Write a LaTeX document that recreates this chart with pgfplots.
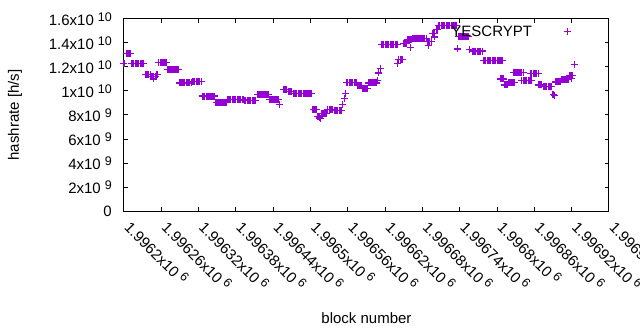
\documentclass[border=0pt]{standalone}
\usepackage{fontspec}
\setmainfont{Liberation Sans}
\usepackage{pgfplots}
\pgfplotsset{compat=1.18}
\definecolor{gpviolet}{HTML}{9400D3}
\newcommand\gpsup[1]{\hspace{4bp}\raisebox{4.5bp}{\fontsize{12.5bp}{12.5bp}\selectfont #1}}
\pgfplotsset{gplegend/.style={legend image code/.code={\draw[draw=gpviolet, fill=none, line width=1bp, solid] (-3.5bp,0bp) -- (3.5bp,0bp) (0bp,-3.5bp) -- (0bp,3.5bp);}}}
\begin{document}
\fontsize{15bp}{18bp}\selectfont
\begin{tikzpicture}[font=\fontsize{15bp}{18bp}\selectfont]
\path[use as bounding box] (-124bp,-119bp) rectangle (516bp,211bp);
\begin{axis}[
  at={(0,0)}, anchor=south west,
  scale only axis, width=485bp, height=192bp,
  xmin=0, xmax=780, ymin=0, ymax=1.6,
  axis line style={line width=1bp, black},
  tick align=inside,
  major tick length=4bp,
  every tick/.style={black, line width=1bp},
  xtick={0,60,120,180,240,300,360,420,480,540,600,660,720,780},
  xticklabels={1.9962x10\gpsup{6},1.99626x10\gpsup{6},1.99632x10\gpsup{6},1.99638x10\gpsup{6},1.99644x10\gpsup{6},1.9965x10\gpsup{6},1.99656x10\gpsup{6},1.99662x10\gpsup{6},1.99668x10\gpsup{6},1.99674x10\gpsup{6},1.9968x10\gpsup{6},1.99686x10\gpsup{6},1.99692x10\gpsup{6},1.99698x10\gpsup{6}},
  ytick={0,0.2,0.4,0.6,0.8,1,1.2,1.4,1.6},
  yticklabels={0,2x10\gpsup{9},4x10\gpsup{9},6x10\gpsup{9},8x10\gpsup{9},1x10\gpsup{10},1.2x10\gpsup{10},1.4x10\gpsup{10},1.6x10\gpsup{10}},
  xticklabel style={xshift=4bp, yshift=-13bp, rotate=-45, anchor=west, inner sep=0pt},
  yticklabel style={anchor=east, inner sep=0pt, xshift=-12bp},
  xlabel={block number}, ylabel={hashrate [h/s]},
  xlabel style={at={(axis description cs:0.5,-0.5885)}, anchor=base},
  ylabel style={at={(axis description cs:-0.2165,0.5)}, anchor=base},
  legend plot pos=right,
  legend style={draw=none, fill=none, inner sep=0pt, outer sep=0pt, anchor=east, at={(0.9237,0.9323)}, cells={anchor=center}, nodes={inner sep=0pt}, column sep=32bp},
]
\addplot[only marks, mark=+, mark size=3.5bp, color=gpviolet, mark options={line width=1.1bp}, gplegend]
coordinates {
(0,1.23)
(4,1.314)(6,1.314)(8,1.314)(10,1.314)
(12,1.232)(14,1.232)(16,1.232)(18,1.232)(20,1.232)(22,1.232)(24,1.232)(26,1.232)(28,1.232)(30,1.232)(32,1.232)
(34,1.14)(36,1.14)(38,1.14)(40,1.14)(42,1.14)
(44,1.12)(46,1.12)(47,1.10)(48,1.12)(50,1.12)
(52,1.14)(54,1.14)
(56,1.24)(58,1.24)(60,1.24)(62,1.24)(64,1.24)(66,1.24)(68,1.24)
(70,1.18)(72,1.18)(74,1.18)(76,1.18)(78,1.18)(80,1.18)(82,1.18)(84,1.18)(86,1.18)(88,1.18)
(90,1.067)(92,1.067)(94,1.067)(96,1.067)(98,1.067)(100,1.067)(102,1.067)(104,1.067)(106,1.067)(108,1.067)
(110,1.08)(112,1.08)(114,1.08)(116,1.08)(118,1.08)(120,1.08)(122,1.08)(124,1.08)
(126,0.958)(128,0.958)(130,0.958)(132,0.958)(134,0.958)(136,0.958)(138,0.958)(140,0.958)(142,0.958)(144,0.958)(146,0.958)
(148,0.906)(150,0.906)(152,0.906)(154,0.906)(156,0.906)(158,0.906)(160,0.906)(162,0.906)(164,0.906)
(166,0.93)(168,0.93)(170,0.93)(172,0.93)(174,0.93)(176,0.93)(178,0.93)(180,0.93)(182,0.93)(184,0.93)(186,0.93)(188,0.93)(190,0.93)(192,0.93)
(194,0.92)(196,0.92)(198,0.92)(200,0.92)(202,0.92)(204,0.92)(206,0.92)(208,0.92)(210,0.92)(212,0.92)
(214,0.97)(216,0.97)(218,0.97)(220,0.97)(222,0.97)(224,0.97)(226,0.97)(228,0.97)(230,0.97)(232,0.97)
(234,0.93)(236,0.93)(238,0.93)(240,0.93)(242,0.93)(244,0.93)(246,0.93)(248,0.93)
(250,0.885)
(256,1.01)(258,1.01)(260,1.01)(262,1.01)
(264,0.995)(266,0.995)(268,0.995)(270,0.995)
(272,0.98)(274,0.98)(276,0.98)(278,0.98)(280,0.98)(282,0.98)(284,0.98)(286,0.98)(288,0.98)(290,0.98)(292,0.98)(294,0.98)(296,0.98)(298,0.98)(300,0.98)(302,0.98)
(304,0.847)(306,0.847)(308,0.847)(310,0.847)
(312,0.79)(314,0.775)(316,0.77)
(318,0.814)(320,0.814)(322,0.814)(324,0.814)(326,0.814)
(328,0.848)(330,0.848)(332,0.848)(334,0.848)(336,0.848)
(338,0.84)(340,0.84)(342,0.84)(344,0.84)(346,0.84)(348,0.84)(350,0.84)
(352,0.89)(354,0.94)(356,0.98)
(358,1.07)(360,1.07)(362,1.07)(364,1.07)(366,1.07)(368,1.07)(370,1.07)(372,1.07)(374,1.07)
(376,1.045)(378,1.045)(380,1.045)(382,1.045)
(384,1.02)(386,1.02)(388,1.02)(390,1.02)(392,1.02)
(394,1.067)(396,1.067)(398,1.067)(400,1.067)(402,1.067)(404,1.067)(406,1.067)
(408,1.09)(410,1.15)(412,1.19)
(414,1.39)(416,1.39)(418,1.39)(420,1.39)(422,1.39)(424,1.39)(426,1.39)(428,1.39)(430,1.39)(432,1.39)(434,1.39)(436,1.39)(438,1.39)(440,1.39)
(440,1.23)
(442,1.26)(444,1.26)(446,1.26)(448,1.26)
(450,1.395)(452,1.395)(454,1.395)
(456,1.425)(458,1.425)(460,1.425)(462,1.425)
(461,1.36)
(464,1.44)(466,1.44)(468,1.44)(470,1.44)(472,1.44)(474,1.44)(476,1.44)(478,1.44)(480,1.44)(482,1.44)(484,1.44)(486,1.44)
(488,1.41)(490,1.41)(492,1.41)(494,1.41)
(489,1.38)
(496,1.48)(498,1.48)(500,1.48)
(499,1.45)
(502,1.51)(504,1.51)
(506,1.545)(508,1.545)(510,1.545)(512,1.545)(514,1.545)(516,1.545)(518,1.545)(520,1.545)(522,1.545)(524,1.545)(526,1.545)(528,1.545)(530,1.545)(532,1.545)(534,1.545)
(537,1.35)
(538,1.454)(540,1.454)(542,1.454)(544,1.454)(546,1.454)(548,1.454)(550,1.454)(552,1.454)(554,1.454)
(556,1.348)
(560,1.333)(562,1.333)(564,1.333)(566,1.333)(568,1.333)(570,1.333)(572,1.333)(574,1.333)(576,1.333)
(578,1.255)(580,1.255)(582,1.255)(584,1.255)(586,1.255)(588,1.255)(590,1.255)(592,1.255)(594,1.255)(596,1.255)(598,1.255)(600,1.255)(602,1.255)(604,1.255)(606,1.255)(608,1.255)
(606,1.10)(608,1.10)(610,1.10)
(612,1.05)(614,1.05)(616,1.05)
(618,1.07)(620,1.07)(622,1.07)(624,1.07)(626,1.07)(628,1.07)
(626,1.155)(628,1.155)(630,1.155)(632,1.155)(634,1.155)(636,1.155)(638,1.155)(640,1.155)(642,1.155)
(640,1.09)(642,1.09)(644,1.09)(646,1.09)(648,1.09)(650,1.09)(652,1.09)(654,1.09)(656,1.09)
(654,1.145)(656,1.145)(658,1.145)(660,1.145)(662,1.145)(664,1.145)(666,1.145)
(666,1.05)(668,1.05)(670,1.05)(672,1.05)
(674,1.04)(676,1.04)(678,1.04)(680,1.04)(682,1.04)(684,1.04)(686,1.04)(688,1.04)
(690,0.97)(692,0.96)
(694,1.075)(696,1.075)(698,1.075)(700,1.075)(702,1.075)
(704,1.095)(706,1.095)(708,1.095)(710,1.095)(712,1.095)(714,1.095)
(716,1.13)(718,1.13)(720,1.13)(722,1.13)
(720,1.105)
(724,1.222)
};
\addlegendentry{YESCRYPT}
\end{axis}
\end{tikzpicture}
\end{document}
